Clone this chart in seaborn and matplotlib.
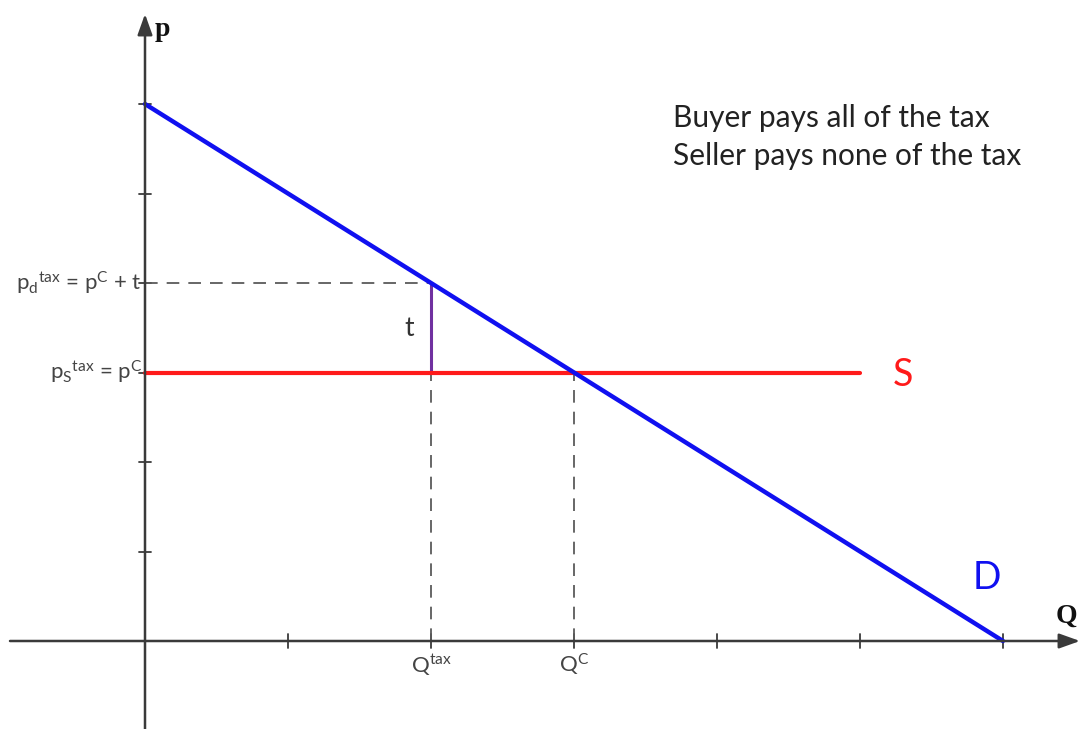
import matplotlib
matplotlib.use("Agg")
import matplotlib.pyplot as plt
import seaborn as sns
import pandas as pd

# Market data: linear demand and a perfectly elastic (horizontal) supply curve
demand_q = [0, 6]
demand_p = [6, 0]
supply_q = [0, 5]
supply_p = [3, 3]
q_tax = 2          # quantity traded with the tax
q_comp = 3         # competitive equilibrium quantity
p_comp = 3         # competitive price (= seller price with tax)
tax = 1            # per-unit tax
p_buyer = p_comp + tax
x_ticks = [1, 2, 3, 4, 5, 6]
y_ticks = [1, 2, 3, 4, 5, 6]

sns.set_theme(style="white")
plt.rcParams["font.family"] = ["Lato", "DejaVu Sans"]
plt.rcParams["mathtext.fontset"] = "custom"
plt.rcParams["mathtext.rm"] = "Lato"
plt.rcParams["mathtext.it"] = "Lato"

W, H = 1081, 729
fig = plt.figure(figsize=(W / 100, H / 100), dpi=100)
ax = fig.add_axes([0, 0, 1, 1])

# pixel geometry of the diagram: origin and unit sizes
ox, oy, ux, uy = 145, 641, 143, 89.5
ax.set_xlim(-ox / ux, (W - ox) / ux)
ax.set_ylim(-(H - oy) / uy, oy / uy)
for s in ax.spines.values():
    s.set_visible(False)
ax.set_xticks([])
ax.set_yticks([])

axis_col = "#3a3a3a"
# coordinate axes with arrow heads
ax.annotate("", xy=((1080 - ox) / ux, 0), xytext=(-135 / ux, 0),
            arrowprops=dict(arrowstyle="-|>,head_length=0.7,head_width=0.25",
                            color=axis_col, lw=1.8,
                            mutation_scale=18, shrinkA=0, shrinkB=0))
ax.annotate("", xy=(0, (oy - 14) / uy), xytext=(0, -(H - oy + 5) / uy),
            arrowprops=dict(arrowstyle="-|>,head_length=0.7,head_width=0.25",
                            color=axis_col, lw=1.8,
                            mutation_scale=18, shrinkA=0, shrinkB=0))
ax.text((155 - ox) / ux, (oy - 30) / uy, "p", fontsize=20, fontweight="bold",
        family="Liberation Serif", color="#111111", ha="left", va="center")
ax.text((1066 - ox) / ux, (oy - 616) / uy, "Q", fontsize=20, fontweight="bold",
        family="Liberation Serif", color="#111111", ha="center", va="center")

# small tick marks crossing each axis
tk_x = 6 / ux
tk_y = 7 / uy
for q in x_ticks:
    ax.plot([q, q], [-tk_y, tk_y], color=axis_col, lw=1.3)
for p in y_ticks:
    ax.plot([-tk_x, tk_x], [p, p], color=axis_col, lw=1.3)

# guide lines
dash_col = "#5a5a5a"
ax.plot([0, q_tax], [p_buyer, p_buyer], color=dash_col, lw=1.3, ls=(0, (7, 5)))
ax.plot([q_tax, q_tax], [0, p_comp], color=dash_col, lw=1.3, ls=(0, (7, 5)))
ax.plot([q_comp, q_comp], [0, p_comp], color=dash_col, lw=1.3, ls=(0, (7, 5)))
ax.plot([q_tax, q_tax], [p_comp, p_buyer], color="#7030A0", lw=2.2)

# supply and demand curves
supply = pd.DataFrame({"Q": supply_q, "p": supply_p})
demand = pd.DataFrame({"Q": demand_q, "p": demand_p})
sns.lineplot(data=supply, x="Q", y="p", ax=ax, color="#FF1A1A", lw=3)
sns.lineplot(data=demand, x="Q", y="p", ax=ax, color="#1010F0", lw=3.2)
ax.set_xlabel("")
ax.set_ylabel("")

ax.text((893 - ox) / ux, p_comp - 0.03, "S", color="#FF1A1A", fontsize=27,
        ha="left", va="center")
ax.text((987 - ox) / ux, (oy - 578) / uy, "D", color="#1010F0", fontsize=27,
        ha="center", va="center")
ax.text((409 - ox) / ux, (oy - 328) / uy, "t", color="#333333", fontsize=19,
        ha="center", va="center")

lab_col = "#444444"
ax.text(-3 / ux, p_buyer, r"p$_\mathrm{d}$$^\mathrm{tax}$ = p$^\mathrm{C}$ + t",
        fontsize=16, color=lab_col, ha="right", va="center")
ax.text(-3 / ux, p_comp, r"p$_\mathrm{S}$$^\mathrm{tax}$ = p$^\mathrm{C}$",
        fontsize=16, color=lab_col, ha="right", va="center")
ax.text(q_tax, -0.27, r"Q$^{\mathrm{tax}}$", fontsize=16, color=lab_col,
        ha="center", va="center")
ax.text(q_comp, -0.27, r"Q$^{\mathrm{C}}$", fontsize=16, color=lab_col,
        ha="center", va="center")

ax.text((673 - ox) / ux, (oy - 137) / uy,
        "Buyer pays all of the tax\nSeller pays none of the tax",
        fontsize=21.5, color="#222222", ha="left", va="center", linespacing=1.45)

fig.savefig("out.png", dpi=100)
